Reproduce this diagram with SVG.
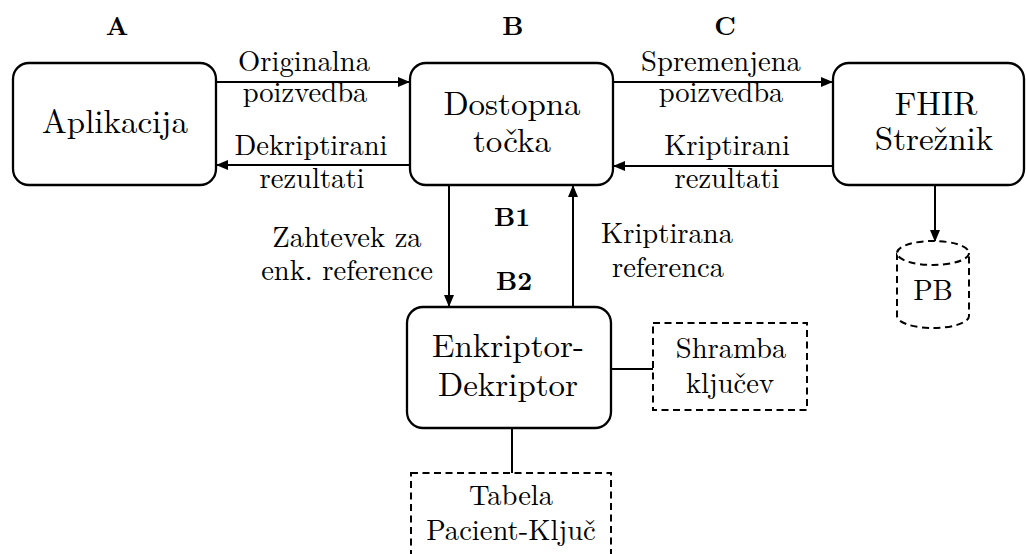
<svg xmlns="http://www.w3.org/2000/svg" width="1026" height="554" viewBox="0 0 1026 554">
  <style>
    .box { fill: #fff; stroke: #000; stroke-width: 2.3; }
    .dash { fill: #fff; stroke: #000; stroke-width: 2; stroke-dasharray: 7 4.5; }
    .wire { fill: none; stroke: #000; stroke-width: 2; }
    .node { font-family: 'Latin Modern Roman', 'Liberation Serif', serif; font-size: 33px; fill: #000; text-anchor: middle; }
    .lbl { font-family: 'Latin Modern Roman', 'Liberation Serif', serif; font-size: 28.6px; fill: #000; text-anchor: middle; }
    .tag { font-family: 'Latin Modern Roman', 'Liberation Serif', serif; font-size: 26px; font-weight: bold; fill: #000; text-anchor: middle; }
  </style>
  <defs>
    <marker id="head" markerUnits="userSpaceOnUse" markerWidth="12" markerHeight="10" refX="12" refY="5" orient="auto">
      <path d="M0,0 L12,5 L0,10 z" fill="#000"/>
    </marker>
  </defs>
  <rect width="1026" height="554" fill="#fff"/>

  <!-- section tags -->
  <g id="tags">
    <text class="tag" x="117" y="35">A</text>
    <text class="tag" x="513" y="35">B</text>
    <text class="tag" x="725" y="35">C</text>
    <text class="tag" x="512" y="226">B1</text>
    <text class="tag" x="514" y="290">B2</text>
  </g>

  <!-- connectors -->
  <g id="connectors">
    <line class="wire" x1="216" y1="82" x2="410" y2="82" marker-end="url(#head)"/>
    <line class="wire" x1="410" y1="165" x2="216" y2="165" marker-end="url(#head)"/>
    <line class="wire" x1="613" y1="82" x2="833" y2="82" marker-end="url(#head)"/>
    <line class="wire" x1="833" y1="166" x2="613" y2="166" marker-end="url(#head)"/>
    <line class="wire" x1="449" y1="185" x2="449" y2="307" marker-end="url(#head)"/>
    <line class="wire" x1="573" y1="307" x2="573" y2="185" marker-end="url(#head)"/>
    <line class="wire" x1="935" y1="185" x2="935" y2="242" marker-end="url(#head)"/>
    <line class="wire" x1="611" y1="369" x2="653" y2="369"/>
    <line class="wire" x1="512" y1="428" x2="512" y2="473"/>

    <text class="lbl" x="304" y="71">Originalna</text>
    <text class="lbl" x="305" y="102">poizvedba</text>
    <text class="lbl" x="311" y="155">Dekriptirani</text>
    <text class="lbl" x="312" y="188">rezultati</text>

    <text class="lbl" x="721" y="71">Spremenjena</text>
    <text class="lbl" x="721" y="102">poizvedba</text>
    <text class="lbl" x="727" y="155">Kriptirani</text>
    <text class="lbl" x="727" y="188">rezultati</text>

    <text class="lbl" x="347" y="247">Zahtevek za</text>
    <text class="lbl" x="347" y="280">enk. reference</text>
    <text class="lbl" x="667" y="243">Kriptirana</text>
    <text class="lbl" x="668" y="277">referenca</text>
  </g>

  <g id="aplikacija">
    <rect class="box" x="13" y="63" width="203" height="122" rx="16"/>
    <text class="node" x="115" y="133">Aplikacija</text>
  </g>

  <g id="dostopna-tocka">
    <rect class="box" x="410" y="63" width="203" height="122" rx="16"/>
    <text class="node" x="512" y="115">Dostopna</text>
    <text class="node" x="512" y="152">točka</text>
  </g>

  <g id="fhir-streznik">
    <rect class="box" x="833" y="63" width="191" height="122" rx="16"/>
    <text class="node" x="936" y="115">FHIR</text>
    <text class="node" x="934" y="150">Strežnik</text>
  </g>

  <g id="pb">
    <path class="dash" d="M897,253 L897,316 A36,12 0 0 0 969,316 L969,253"/>
    <ellipse class="dash" cx="933" cy="253" rx="36" ry="12"/>
    <text class="lbl" x="933" y="300">PB</text>
  </g>

  <g id="enkriptor-dekriptor">
    <rect class="box" x="407" y="307" width="204" height="121" rx="16"/>
    <text class="node" x="508" y="357">Enkriptor-</text>
    <text class="node" x="508" y="396">Dekriptor</text>
  </g>

  <g id="shramba-kljucev">
    <rect class="dash" x="653" y="323" width="154" height="87"/>
    <text class="lbl" x="731" y="358">Shramba</text>
    <text class="lbl" x="730" y="393">ključev</text>
  </g>

  <g id="tabela-pacient-kljuc">
    <rect class="dash" x="411" y="473" width="200" height="95"/>
    <text class="lbl" x="511" y="505">Tabela</text>
    <text class="lbl" x="511" y="540">Pacient-Ključ</text>
  </g>
</svg>
